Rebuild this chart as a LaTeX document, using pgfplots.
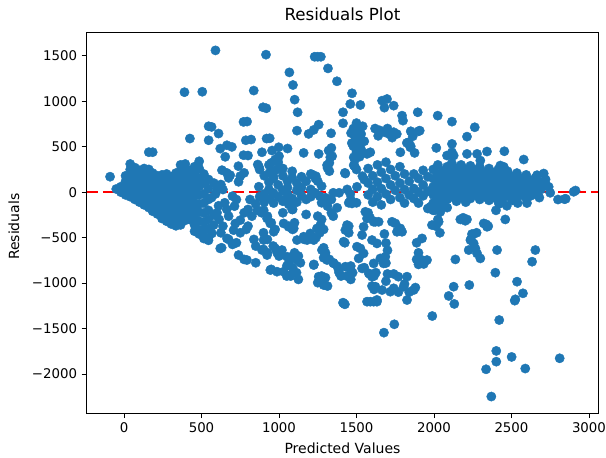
\documentclass[border=0pt]{standalone}
\usepackage{fontspec}
\setmainfont{DejaVu Sans}
\usepackage{pgfplots}
\pgfplotsset{compat=1.18}
\definecolor{tabblue}{RGB}{31,119,180}

\begin{document}
\begin{tikzpicture}
\begin{axis}[
  width=383.7pt, height=285.45pt, scale only axis,
  xmin=-241, xmax=3060, ymin=-2433, ymax=1755,
  xtick={0,500,1000,1500,2000,2500,3000},
  xticklabels={0,500,1000,1500,2000,2500,3000},
  ytick={-2000,-1500,-1000,-500,0,500,1000,1500},
  yticklabels={−2000,−1500,−1000,−500,0,500,1000,1500},
  tick align=outside, major tick length=3.7pt, tick pos=left,
  tick style={black, line width=0.6pt},
  axis line style={black, line width=0.6pt},
  every tick label/.append style={font=\fontsize{10}{12}\selectfont},
  title={Residuals Plot},
  title style={at={(axis description cs:0.5,1.047)}, anchor=center, yshift=-6pt,
    font=\fontsize{12.5}{15}\selectfont},
  xlabel={Predicted Values},
  xlabel style={at={(axis description cs:0.5,-0.091)}, anchor=center, font=\fontsize{10.5}{12}\selectfont},
  ylabel={Residuals},
  ylabel style={at={(axis description cs:-0.142,0.49)}, anchor=center, font=\fontsize{10.5}{12}\selectfont},
]
\coordinate (sw) at (rel axis cs:0,0);
\coordinate (ne) at (rel axis cs:1,1);

% residuals
\addplot[only marks, mark=*, mark size=3.5pt, color=tabblue,
  mark options={fill=tabblue, draw=tabblue, line width=0.3pt}]
coordinates {
% left blob
(-90,170)(-50,35)(-20,60)(-20,0)
(10,180)(10,120)(10,60)(10,10)(10,-30)
(40,310)(40,250)(40,190)(40,130)(40,70)(40,10)(40,-50)
(70,270)(70,210)(70,150)(70,90)(70,30)(70,-30)(70,-80)
(100,240)(100,180)(100,120)(100,60)(100,0)(100,-60)(100,-110)
(130,260)(130,200)(130,140)(130,80)(130,20)(130,-40)(130,-100)(130,-140)
(160,440)(160,250)(160,190)(160,130)(160,70)(160,10)(160,-50)(160,-110)(160,-170)
(185,440)(185,210)(185,150)(185,90)(185,30)(185,-30)(185,-90)(185,-150)(185,-210)
(215,180)(215,120)(215,60)(215,0)(215,-60)(215,-120)(215,-180)(215,-240)
(245,190)(245,130)(245,70)(245,10)(245,-50)(245,-110)(245,-170)(245,-230)(245,-290)
(275,200)(275,140)(275,80)(275,20)(275,-40)(275,-100)(275,-160)(275,-220)(275,-280)(275,-320)
(305,170)(305,110)(305,50)(305,-10)(305,-70)(305,-130)(305,-190)(305,-250)(305,-310)(305,-350)
(335,210)(335,150)(335,90)(335,30)(335,-30)(335,-90)(335,-150)(335,-210)(335,-270)(335,-330)(335,-370)
(365,300)(365,240)(365,180)(365,120)(365,60)(365,0)(365,-60)(365,-120)(365,-180)(365,-240)(365,-300)(365,-360)
(390,1100)(395,310)(395,250)(395,180)(395,110)(395,40)(395,-30)(395,-100)(395,-170)(395,-240)(395,-310)
(425,590)(425,240)(425,160)(425,80)(425,0)(425,-80)(425,-160)(425,-230)(425,-300)
(455,280)(455,200)(455,120)(455,40)(455,-40)(455,-120)(455,-200)(455,-280)(455,-360)(455,-430)
(485,340)(485,260)(485,150)(485,60)(485,-30)(485,-130)(485,-220)(485,-320)(485,-420)(485,-460)
(505,1105)(515,200)(515,100)(515,-20)(515,-120)(515,-230)(515,-330)(515,-420)(515,-510)
(545,140)(545,40)(545,-80)(545,-200)(545,-300)(545,-400)(545,-500)(545,-530)
% 550 - 850
(590,1560)(546,725)(565,718)(546,571)(610,645)(621,479)(664,516)(696,498)(653,389)
(632,242)(685,187)(739,114)(771,407)(786,571)(771,773)(794,777)(837,1118)
(503,-418)(524,-509)(567,-454)(578,-363)(621,-619)(664,-509)(707,-418)(718,-345)
(750,-308)(739,-692)(793,-747)
(738,286)(800,403)(820,579)(775,212)(750,176)(663,212)(675,157)(625,84)(638,29)
(700,-44)(725,-81)(713,-154)(650,-117)(663,-190)(675,-264)(600,-227)(613,-300)
(638,-374)(625,-447)(675,-520)(700,-575)(725,-557)(630,-612)(775,-740)(750,-447)
(788,-410)(800,-374)(775,-227)(800,-190)(825,-264)(838,-520)(850,-593)(850,-777)
(813,-81)(580,100)(600,40)(590,-20)(565,-60)(610,-150)(580,-250)
% 850 - 1250 upper
(916,1513)(1067,1318)(1090,1179)(1101,1018)(1120,879)(897,934)(918,923)(1116,677)
(940,593)(920,590)(890,439)(955,458)(998,494)(1159,432)(1256,421)(1320,458)(1331,384)
(1191,641)(1224,685)(1256,743)(1336,648)(863,304)(875,249)(950,322)(975,359)
(938,212)(963,176)(988,249)(1000,396)
(870,280)(870,60)(875,-50)
(905,180)(905,-20)(905,-110)
(935,300)(935,110)(935,30)(940,-70)
(965,230)(965,150)(965,-10)(965,-120)
(995,330)(995,80)(995,-50)
(1025,260)(1025,180)(1025,20)(1025,-100)
(1055,480)(1055,120)(1055,50)(1055,-20)
(1085,230)(1085,160)(1085,-70)(1085,-190)
(1115,100)(1115,20)(1115,-110)
(1145,170)(1145,50)(1145,-40)
(1175,120)(1175,-80)
(1205,200)(1205,30)(1205,-50)
(1235,150)(1235,-10)
% 850 - 1500 lower
(901,-198)(923,-289)(944,-344)(966,-436)(1030,-344)(1062,-381)(1095,-399)(901,-527)
(890,-637)(923,-692)(976,-619)(1019,-637)(1009,-692)(1052,-710)(1084,-710)(1116,-747)
(944,-857)(987,-875)(1030,-875)(1073,-912)(1116,-527)(1159,-490)(1181,-527)(1224,-527)
(1202,-454)(1245,-399)(1267,-362)(1224,-802)(1277,-637)(1299,-692)(1310,-747)(1256,-930)
(1288,-1022)(1353,-784)(1385,-857)(1428,-820)(1460,-839)(1417,-1223)(1428,-417)
(1439,-362)(1417,-545)(1471,-124)
(888,-227)(925,-264)(950,-337)(975,-410)(900,-447)(925,-520)(963,-593)(900,-630)
(925,-667)(988,-667)(1000,-703)(950,-850)(1050,-813)(1063,-777)(1050,-923)(1100,-667)
(1125,-703)(1138,-777)(1088,-831)(1113,-886)(1125,-960)(1075,-923)(1038,-81)(1063,-135)
(1088,-190)(1025,-227)(1063,-374)(1088,-410)(1100,-337)(1163,-520)(1188,-502)(1175,-245)
(1225,-795)(850,-130)(860,-200)
% 1200 - 1550
(1230,1490)(1250,1490)(1270,1490)(1316,1362)(1374,1220)(1471,1088)(1460,970)(1525,959)
(1413,879)(1413,758)(1480,700)(1500,760)(1515,725)(1540,725)(1465,650)(1490,615)
(1525,597)(1480,505)(1500,440)(1530,470)(1490,360)(1520,390)(1488,286)(1500,249)
(1538,176)(1550,139)(1338,487)(1343,396)(1325,322)(1313,267)(1325,231)(1213,194)
(1238,176)(1250,121)(1275,66)(1425,212)(1310,297)(1428,205)(1482,297)(1503,59)
(1225,-7)(1263,-44)(1300,-62)(1350,-7)(1388,-7)(1275,-117)(1313,-154)(1338,-81)
(1250,-264)(1275,-300)(1338,-227)(1350,-264)(1375,-172)(1288,-410)(1263,-447)(1238,-502)
(1288,-612)(1300,-667)(1288,-722)(1325,-740)(1350,-777)(1375,-813)(1275,-923)(1300,-941)
(1313,-1033)(1388,-886)(1400,-923)(1413,-1216)(1425,-1234)(1250,-996)(1440,30)(1460,-20)
% 1550 - 2000 upper
(1665,1007)(1697,1025)(1680,930)(1740,952)(1794,842)(1800,787)(1895,879)(1908,677)
(1837,549)(1847,494)(1589,439)(1568,421)(1503,458)(1482,384)(1783,439)
(1620,700)(1650,680)(1680,660)(1710,640)(1740,660)(1760,640)(1700,700)(1640,620)(1730,600)
(1850,670)(1863,615)(1825,542)(1850,505)(1875,432)(1900,670)
(1470,540)(1490,560)(1510,600)(1530,640)(1550,560)(1520,520)(1500,680)
(1575,260)(1575,100)(1575,-30)
(1605,180)(1605,30)(1605,-110)
(1635,300)(1635,110)(1635,-50)
(1660,220)(1660,40)(1660,-140)
(1690,330)(1690,150)(1690,-20)
(1720,250)(1720,80)(1720,-80)
(1750,180)(1750,20)
(1780,280)(1780,100)(1780,-60)
(1810,200)(1810,30)(1810,-120)
(1840,120)(1840,-30)
(1870,200)(1870,40)(1870,-70)
(1900,150)(1900,0)(1900,-120)
(1930,240)(1930,80)(1930,-40)
(1960,170)(1960,10)(1960,-180)
% 1450 - 2000 lower
(1557,-216)(1568,-289)(1546,-381)(1536,-472)(1600,-527)(1632,-564)(1611,-326)(1622,-326)
(1643,-326)(1729,-326)(1751,-344)(1783,-399)(1794,-436)(1761,-436)(1503,-600)(1525,-619)
(1546,-674)(1514,-729)(1536,-839)(1579,-893)(1611,-784)(1654,-729)(1686,-710)(1675,-784)
(1600,-930)(1622,-1040)(1665,-1077)(1718,-1095)(1740,-1058)(1804,-1040)(1826,-930)
(1869,-1077)(1632,-1186)(1611,-1205)(1568,-1205)(1923,-509)(1923,-747)(1934,-790)
(1450,-374)(1438,-410)(1450,-447)(1425,-557)(1463,-813)(1475,-886)(1438,-923)(1463,-960)
(1550,-831)(1588,-905)(1613,-923)(1625,-886)(1600,-1033)(1613,-1070)(1589,-1205)
(1632,-1205)(1677,-1546)(1744,-1454)(1826,-1187)(1888,-557)(1900,-667)(1888,-740)
(1900,-795)(1989,-1363)(1575,-227)(1588,-282)(1500,-117)(1463,-81)(1450,-117)
(1680,-460)(1690,-560)(1700,-640)(1690,-780)(1700,-900)(1690,-980)(1740,-900)(1770,-930)
(1770,-1100)(1810,-1010)(1880,-1050)(1840,-1100)
% 2000 - 2950
(2024,842)(2116,776)(2263,714)(2213,611)(2015,487)(2116,531)(2116,439)(2084,403)
(2127,403)(2213,421)(2278,421)(2299,348)(2342,447)(2454,450)(2579,359)(2428,293)
(2450,279)(2665,187)(2708,205)(2719,96)(2740,59)(2901,4)(2841,-77)
(1995,250)(1995,150)(1995,60)(1995,-30)(1995,-120)(1995,-200)
(2025,300)(2025,200)(2025,110)(2025,20)(2025,-70)(2025,-160)
(2055,230)(2055,140)(2055,50)(2055,-40)(2055,-130)
(2085,280)(2085,190)(2085,100)(2085,10)(2085,-80)(2085,-170)
(2115,320)(2115,220)(2115,130)(2115,40)(2115,-50)
(2145,260)(2145,170)(2145,80)(2145,-10)(2145,-100)
(2175,300)(2175,210)(2175,120)(2175,30)(2175,-60)
(2205,250)(2205,160)(2205,70)(2205,-20)(2205,-110)
(2235,290)(2235,200)(2235,110)(2235,20)(2235,-70)
(2265,240)(2265,150)(2265,60)(2265,-30)
(2295,280)(2295,190)(2295,100)(2295,10)(2295,-80)
(2325,220)(2325,130)(2325,40)(2325,-50)
(2355,260)(2355,170)(2355,80)(2355,-10)(2355,-90)
(2385,210)(2385,120)(2385,30)(2385,-60)
(2415,250)(2415,160)(2415,70)(2415,-20)(2415,-100)
(2445,190)(2445,100)(2445,10)(2445,-70)
(2475,230)(2475,140)(2475,50)(2475,-40)
(2505,170)(2505,80)(2505,-10)(2505,-90)
(2535,210)(2535,120)(2535,30)(2535,-50)
(2565,150)(2565,60)(2565,-30)
(2595,190)(2595,100)(2595,10)(2595,-70)
(2625,130)(2625,40)(2625,-40)
(2655,160)(2655,70)(2655,-20)
(2690,110)(2690,30)
(2720,140)
(2170,-300)(2202,-315)(2321,-344)(2342,-381)(2460,-300)(2245,-461)(2235,-527)(2256,-564)
(2224,-637)(2267,-619)(2278,-674)(2299,-729)(2138,-740)(2407,-637)(2396,-886)(2654,-637)
(2633,-765)(2127,-1040)(2095,-1142)(2131,-1230)(2228,-1022)(2536,-985)(2574,-1113)
(2525,-1179)(1977,-161)(2009,-197)(2041,-216)(1987,-362)(2030,-326)(1955,-747)
(2521,-1194)(2421,-1407)(2402,-1747)(2402,-1865)(2336,-1949)(2501,-1813)(2589,-1941)
(2370,-2249)(2811,-1828)(2025,-300)(2013,-374)(2038,-447)(2188,-282)(2213,-300)
(2238,-520)(2250,-465)(2275,-447)(2350,-374)(2338,-355)(2400,-200)(2420,-130)(2470,-150)
(2540,-120)(2600,-120)(2680,-60)(2750,-7)(2800,-81)(2850,-73)(2913,18)
};

% zero line
\addplot[red, line width=1.9pt, dash pattern=on 8.5pt off 3.7pt]
  coordinates {(-241,0)(3060,0)};
\end{axis}
\pgfresetboundingbox
\path[use as bounding box] ([shift={(-65pt,-32.8pt)}]sw) rectangle ([shift={(5.8pt,24.5pt)}]ne);
\end{tikzpicture}
\end{document}
